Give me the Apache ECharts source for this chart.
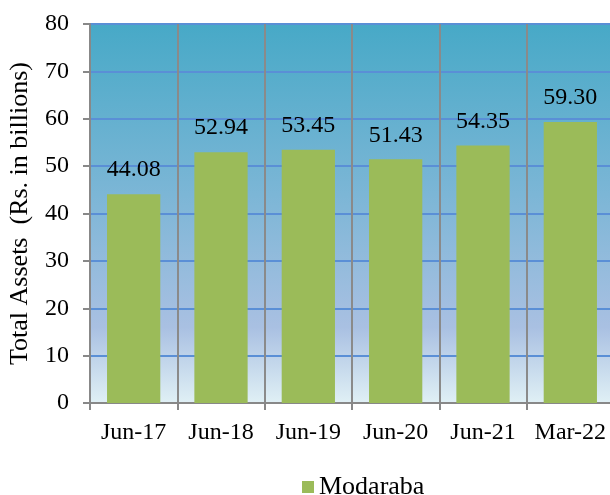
<!DOCTYPE html>
<html>
<head>
<meta charset="utf-8">
<script src="https://cdn.jsdelivr.net/npm/echarts@6/dist/echarts.min.js"></script>
<style>
  html, body { margin: 0; padding: 0; background: #fff; }
  #chart { width: 610px; height: 495px; }
</style>
</head>
<body>
<div id="chart"></div>
<script>
const categories = ["Jun-17", "Jun-18", "Jun-19", "Jun-20", "Jun-21", "Mar-22"];
const modaraba = [44.08, 52.94, 53.45, 51.43, 54.35, 59.30];
const yTicks = { min: 0, max: 80, interval: 10 };

const font = "'Liberation Serif', 'Times New Roman', serif";
const chart = echarts.init(document.getElementById("chart"));

chart.setOption({
  animation: false,
  grid: {
    left: 90, top: 24, width: 524, height: 379,
    outerBoundsMode: "none",
    containLabel: false,
    show: true,
    borderWidth: 0,
    backgroundColor: new echarts.graphic.LinearGradient(0, 0, 0, 1, [
      { offset: 0, color: "#47a9c7" },
      { offset: 0.45, color: "#7cb6d6" },
      { offset: 0.8, color: "#a9c0e2" },
      { offset: 1, color: "#e0f0f5" },
    ]),
  },
  legend: {
    data: ["Modaraba"],
    left: 297, top: 469,
    itemWidth: 12, itemHeight: 12, itemGap: 5,
    icon: "rect",
    textStyle: { fontFamily: font, fontSize: 26, color: "#000" },
  },
  xAxis: [
    {
      type: "category",
      data: categories,
      axisLine: { lineStyle: { color: "#888", width: 2 } },
      axisTick: { show: true, length: 7, interval: 0, alignWithLabel: false, lineStyle: { color: "#888", width: 2 } },
      splitLine: { show: true, interval: 0, lineStyle: { color: "#8a8a8a", width: 2 } },
      axisLabel: { interval: 0, fontFamily: font, fontSize: 24, color: "#000", margin: 18 },
    },
  ],
  yAxis: {
    type: "value",
    min: yTicks.min, max: yTicks.max, interval: yTicks.interval,
    name: "Total Assets  (Rs. in billions)",
    nameLocation: "middle",
    nameGap: 57,
    nameTextStyle: { fontFamily: font, fontSize: 26, color: "#000" },
    axisLine: { show: true, lineStyle: { color: "#888", width: 2 } },
    axisTick: { show: true, length: 7, lineStyle: { color: "#888", width: 2 } },
    splitLine: { show: true, lineStyle: { color: "#5a8fd6", width: 2 } },
    axisLabel: { fontFamily: font, fontSize: 24, color: "#000", margin: 21 },
  },
  series: [
    {
      name: "Modaraba",
      type: "bar",
      data: modaraba,
      barCategoryGap: "39%",
      itemStyle: { color: "#9bbb59" },
      label: {
        show: true,
        position: "top",
        distance: 12,
        formatter: (p) => p.value.toFixed(2),
        fontFamily: font, fontSize: 24, color: "#000",
      },
    },
  ],
});
</script>
</body>
</html>
